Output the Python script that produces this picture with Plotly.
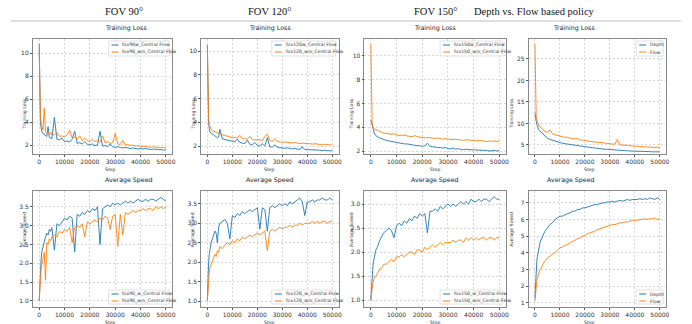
import plotly.graph_objects as go

# ---------------- data ----------------
steps = [0, 250, 500, 750, 1000, 1500, 2000, 2500, 3000, 3500, 4000, 4500, 5000,
         6000, 7000, 8000, 9000, 10000,
         11000, 12000, 13000, 14000, 15000, 16000, 17000, 18000, 19000, 20000,
         21000, 22000, 23000, 24000, 25000, 26000, 27000, 28000, 29000, 30000,
         31000, 32000, 33000, 34000, 35000, 36000, 37000, 38000, 39000, 40000,
         41000, 42000, 43000, 44000, 45000, 46000, 47000, 48000, 49000, 50000]

headers = ["FOV 90°", "FOV 120°", "FOV 150°", "Depth vs. Flow based policy"]
row_titles = ["Training Loss", "Average Speed"]
x_label = "Step"

loss_names = [["fov90w_Central Flow", "fov90_w/o_Central Flow"],
              ["fov120w_Central Flow", "fov120_w/o_Central Flow"],
              ["fov150w_Central Flow", "fov150_w/o_Central Flow"],
              ["Depth", "Flow"]]
speed_names = [["fov90_w_Central Flow", "fov90_w/o_Central Flow"],
               ["fov120_w_Central Flow", "fov120_w/o_Central Flow"],
               ["fov150_w_Central Flow", "fov150_w/o_Central Flow"],
               ["Depth", "Flow"]]

loss_fov90_w = [10.8, 5.5, 4.0, 3.5, 3.2, 3.0, 2.9, 2.8, 2.75, 3.6, 2.65, 2.6, 2.55,
                4.4, 2.5, 2.45, 2.6, 2.3,
                2.35, 2.25, 2.5, 3.2, 2.15, 2.2, 2.1, 2.3, 2.05, 2.0,
                2.1, 1.95, 2.0, 3.2, 1.9, 1.95, 1.85, 2.1, 1.85, 1.8,
                1.85, 1.8, 1.75, 1.8, 1.75, 1.7, 1.75, 1.7, 1.65, 1.7,
                1.65, 1.7, 1.65, 1.6, 1.65, 1.6, 1.6, 1.6, 1.55, 1.6]
loss_fov90_wo = [10.3, 6.0, 4.4, 3.9, 3.6, 3.3, 5.2, 3.1, 3.0, 3.2, 2.9, 3.1, 2.85,
                 2.9, 3.1, 2.75, 2.8, 2.7,
                 2.9, 3.3, 2.6, 2.7, 2.5, 2.8, 2.4, 2.6, 2.35, 2.3,
                 2.5, 2.3, 2.4, 2.25, 2.8, 2.2, 2.3, 2.15, 2.2, 3.0,
                 2.1, 2.05, 2.4, 2.0, 2.05, 1.95, 2.0, 1.9, 1.95, 1.85,
                 1.9, 1.85, 1.85, 1.8, 1.85, 1.8, 1.8, 1.75, 1.8, 1.75]
loss_fov120_w = [10.5, 5.0, 4.0, 3.5, 3.2, 3.1, 3.0, 2.9, 2.85, 2.8, 2.7, 2.75, 3.4,
                 2.6, 2.55, 2.5, 2.45, 2.4,
                 2.35, 2.6, 2.3, 2.25, 2.2, 2.5, 2.15, 2.1, 2.3, 2.05,
                 2.0, 2.2, 2.0, 2.7, 1.95, 1.9, 2.1, 1.9, 1.85, 1.85,
                 1.8, 1.85, 1.8, 1.75, 1.8, 1.75, 1.7, 1.95, 1.7, 1.7,
                 1.7, 1.65, 1.7, 1.65, 1.65, 1.6, 1.65, 1.6, 1.6, 1.6]
loss_fov120_wo = [10.4, 5.5, 4.3, 3.8, 3.6, 3.4, 3.3, 3.25, 3.2, 3.15, 3.1, 3.05, 3.0,
                  2.95, 2.9, 2.85, 2.8, 2.7,
                  2.75, 2.7, 2.9, 2.65, 2.6, 2.6, 2.8, 2.55, 2.5, 2.5,
                  2.55, 2.45, 2.8, 3.0, 2.45, 2.4, 2.6, 2.4, 2.35, 2.3,
                  2.35, 2.3, 2.3, 2.25, 2.3, 2.25, 2.2, 2.25, 2.2, 2.2,
                  2.2, 2.15, 2.2, 2.15, 2.15, 2.1, 2.15, 2.1, 2.1, 2.1]
loss_fov150_w = [4.6, 4.4, 4.1, 3.8, 3.6, 3.4, 3.3, 3.2, 3.15, 3.1, 3.05, 3.0, 2.95,
                 2.9, 2.85, 2.8, 2.75, 2.7,
                 2.7, 2.65, 2.6, 2.6, 2.55, 2.5, 2.5, 2.45, 2.45, 2.4,
                 2.45, 2.65, 2.4, 2.35, 2.35, 2.3, 2.3, 2.25, 2.3, 2.2,
                 2.2, 2.25, 2.15, 2.2, 2.15, 2.1, 2.15, 2.1, 2.1, 2.1,
                 2.1, 2.05, 2.1, 2.05, 2.05, 2.0, 2.05, 2.05, 2.0, 2.05]
loss_fov150_wo = [11.0, 5.5, 4.4, 4.1, 3.95, 3.85, 3.8, 3.75, 3.7, 3.65, 3.6, 3.55, 3.5,
                  3.5, 3.45, 3.4, 3.45, 3.35,
                  3.3, 3.35, 3.3, 3.3, 3.25, 3.2, 3.3, 3.2, 3.15, 3.15,
                  3.1, 3.15, 3.1, 3.1, 3.05, 3.1, 3.05, 3.0, 3.05, 3.0,
                  3.0, 2.95, 3.0, 2.95, 2.95, 2.9, 2.95, 2.9, 2.9, 2.9,
                  2.85, 2.9, 2.85, 2.85, 2.8, 2.85, 2.8, 2.85, 2.8, 2.85]
loss_depth = [12.5, 11.0, 10.5, 9.8, 9.2, 8.6, 8.2, 7.9, 7.6, 7.3, 7.0, 6.8, 6.6,
              6.3, 6.1, 5.9, 5.7, 5.6,
              5.4, 5.3, 5.2, 5.1, 5.0, 4.9, 4.8, 4.7, 4.65, 4.5,
              4.5, 4.4, 4.35, 4.3, 4.2, 4.15, 4.1, 4.0, 4.0, 3.9,
              3.9, 3.85, 3.8, 3.8, 3.7, 3.7, 3.65, 3.6, 3.6, 3.55,
              3.55, 3.5, 3.5, 3.5, 3.45, 3.45, 3.4, 3.45, 3.4, 3.4]
loss_flow = [28.5, 13.0, 11.5, 10.8, 10.2, 9.6, 9.2, 8.9, 8.6, 8.4, 8.2, 8.0, 7.9,
             8.5, 7.6, 7.4, 7.2, 7.0,
             6.9, 6.8, 6.8, 6.6, 6.5, 6.4, 6.5, 6.2, 6.1, 6.0,
             5.9, 5.9, 5.8, 5.7, 5.6, 5.6, 5.5, 5.4, 5.4, 5.3,
             5.2, 5.2, 6.3, 5.0, 5.0, 4.9, 4.9, 4.8, 4.8, 4.7,
             4.7, 4.6, 4.6, 4.6, 4.5, 4.5, 4.5, 4.4, 4.5, 4.4]

speed_fov90_w = [1.0, 1.6, 1.9, 2.1, 2.3, 2.45, 2.55, 2.7, 2.8, 2.75, 2.9, 2.85, 2.95,
                 2.35, 3.05, 3.0, 3.1, 3.2,
                 3.15, 3.25, 3.2, 2.3, 3.3, 3.25, 3.35, 3.3, 3.4, 3.35,
                 3.45, 3.4, 3.5, 2.5, 3.45, 3.5, 3.55, 3.5, 3.6, 3.55,
                 3.6, 3.55, 3.6, 3.65, 3.6, 3.65, 3.6, 3.65, 3.7, 3.65,
                 3.65, 3.7, 3.65, 3.7, 3.7, 3.65, 3.7, 3.75, 3.7, 3.65]
speed_fov90_wo = [1.0, 1.4, 1.7, 1.85, 1.95, 2.1, 2.3, 1.55, 2.55, 2.5, 2.65, 2.6, 2.7,
                  2.75, 2.7, 2.85, 2.8, 2.9,
                  2.85, 2.95, 2.55, 2.95, 3.0, 2.95, 3.05, 2.7, 3.1, 3.05,
                  3.1, 3.15, 3.1, 3.2, 3.15, 3.25, 3.2, 2.9, 3.25, 3.3,
                  2.45, 3.3, 2.75, 3.35, 3.3, 3.35, 3.4, 3.35, 3.4, 3.4,
                  3.45, 3.4, 3.45, 3.45, 3.4, 3.5, 3.45, 3.5, 3.45, 3.5]
speed_fov120_w = [1.0, 1.7, 2.0, 2.2, 2.35, 2.5, 2.6, 2.7, 2.8, 2.75, 2.5, 2.9, 3.0,
                  3.05, 3.1, 3.0, 2.6, 3.2,
                  3.15, 3.25, 3.2, 3.3, 3.25, 3.3, 3.35, 3.3, 3.35, 3.4,
                  2.85, 3.4, 3.35, 2.8, 3.4, 3.45, 3.4, 3.45, 3.5, 3.45,
                  3.5, 3.45, 3.55, 3.5, 3.55, 3.6, 3.65, 3.55, 3.2, 3.55,
                  3.55, 3.6, 3.55, 3.6, 3.6, 3.65, 3.6, 3.6, 3.65, 3.6]
speed_fov120_wo = [1.0, 1.4, 1.6, 1.75, 1.85, 1.95, 2.0, 2.1, 2.2, 2.15, 2.3, 2.25, 2.4,
                   2.35, 2.45, 2.5, 2.45, 2.55,
                   2.5, 2.6, 2.55, 2.65, 2.6, 2.65, 2.7, 2.65, 2.7, 2.75,
                   2.7, 2.75, 2.8, 2.3, 2.8, 2.85, 2.8, 2.85, 2.9, 2.85,
                   2.9, 2.9, 2.95, 2.9, 2.95, 2.95, 3.0, 2.95, 3.0, 3.0,
                   3.0, 3.05, 3.0, 3.05, 3.0, 3.05, 3.05, 3.0, 3.05, 3.05]
speed_fov150_w = [1.0, 1.3, 1.5, 1.65, 1.8, 1.95, 2.05, 2.1, 2.2, 2.25, 2.3, 2.35, 2.4,
                  2.45, 2.5, 2.45, 2.3, 2.55,
                  2.6, 2.55, 2.65, 2.6, 2.7, 2.65, 2.75, 2.7, 2.8, 2.75,
                  2.8, 2.4, 2.85, 2.85, 2.9, 2.85, 2.95, 2.9, 2.95, 3.0,
                  2.95, 3.0, 2.95, 3.0, 3.05, 3.0, 3.05, 3.0, 3.1, 3.05,
                  3.05, 3.1, 3.05, 3.1, 3.1, 3.05, 3.1, 3.15, 3.1, 3.1]
speed_fov150_wo = [1.0, 1.15, 1.25, 1.35, 1.4, 1.5, 1.5, 1.55, 1.6, 1.65, 1.65, 1.7, 1.75,
                   1.75, 1.8, 1.85, 1.8, 1.9,
                   1.9, 1.95, 1.9, 1.95, 2.0, 2.0, 1.95, 2.05, 2.05, 2.0,
                   2.1, 2.05, 2.1, 2.15, 2.1, 2.15, 2.2, 2.15, 2.2, 2.2,
                   2.2, 2.25, 2.2, 2.25, 2.25, 2.2, 2.3, 2.25, 2.3, 2.25,
                   2.3, 2.25, 2.3, 2.3, 2.25, 2.3, 2.3, 2.25, 2.3, 2.3]
speed_depth = [1.3, 2.5, 3.0, 3.5, 3.8, 4.3, 4.6, 4.8, 5.0, 5.1, 5.3, 5.4, 5.5,
               5.7, 5.8, 6.0, 6.1, 6.2,
               6.2, 6.3, 6.35, 6.4, 6.5, 6.5, 6.6, 6.6, 6.7, 6.7,
               6.75, 6.8, 6.85, 6.9, 6.9, 6.95, 7.0, 7.0, 7.05, 7.05,
               7.1, 7.05, 7.1, 7.15, 7.1, 7.15, 7.2, 7.15, 7.2, 7.2,
               7.2, 7.25, 7.2, 7.25, 7.2, 7.3, 7.25, 7.2, 7.3, 7.2]
speed_flow = [1.1, 1.6, 2.0, 2.3, 2.5, 2.8, 3.0, 3.1, 3.3, 3.4, 3.5, 3.6, 3.7,
              3.8, 3.9, 4.0, 4.15, 4.3,
              4.35, 4.45, 4.5, 4.6, 4.7, 4.75, 4.85, 4.9, 5.0, 5.1,
              5.15, 5.2, 5.25, 5.3, 5.4, 5.45, 5.5, 5.55, 5.6, 5.65,
              5.7, 5.7, 5.75, 5.8, 5.8, 5.85, 5.85, 5.9, 5.95, 5.95,
              5.95, 6.0, 6.0, 6.05, 6.0, 6.05, 6.05, 6.1, 6.0, 6.05]

loss_series = [(loss_fov90_w, loss_fov90_wo), (loss_fov120_w, loss_fov120_wo),
               (loss_fov150_w, loss_fov150_wo), (loss_depth, loss_flow)]
speed_series = [(speed_fov90_w, speed_fov90_wo), (speed_fov120_w, speed_fov120_wo),
                (speed_fov150_w, speed_fov150_wo), (speed_depth, speed_flow)]

x_ticks = [0, 10000, 20000, 30000, 40000, 50000]
loss_yticks = [[2, 4, 6, 8, 10], [2, 4, 6, 8, 10], [2, 4, 6, 8, 10], [5, 10, 15, 20, 25]]
speed_yticks = [[1.0, 1.5, 2.0, 2.5, 3.0, 3.5], [1.0, 1.5, 2.0, 2.5, 3.0, 3.5],
                [1.0, 1.5, 2.0, 2.5, 3.0], [1, 2, 3, 4, 5, 6, 7]]

# ---------------- layout / style ----------------
W, H = 692, 324
BLUE, ORANGE = "#1f77b4", "#ff7f0e"
col_px = [(33, 173), (202, 340), (366, 508), (531, 669)]
row_px = [(39, 154), (191, 307)]
loss_ranges = [[1.22, 11.22], [1.33, 11.01], [1.75, 11.43], [2.9, 29.65]]
speed_ranges = [[0.84, 3.92], [0.85, 3.83], [0.86, 3.27], [0.76, 7.71]]
speed_fmt = [".1f", ".1f", ".1f", "d"]
leg_w = [61, 64, 63, 27]


def px(x):
    return x / W


def py(y):
    return 1 - y / H


fig = go.Figure()
layout = dict(width=W, height=H, margin=dict(l=0, r=0, t=0, b=0),
              paper_bgcolor="white", plot_bgcolor="white", showlegend=False)
shapes, annotations = [], []
tick_font = dict(family="DejaVu Sans", size=6, color="#333")
small_font = dict(family="DejaVu Sans", size=4.6, color="#333")

for r in range(2):
    series = loss_series if r == 0 else speed_series
    names = loss_names if r == 0 else speed_names
    for c in range(4):
        k = r * 4 + c + 1
        xa = "x" if k == 1 else f"x{k}"
        ya = "y" if k == 1 else f"y{k}"
        for vals, nm, col in zip(series[c], names[c], (BLUE, ORANGE)):
            fig.add_trace(go.Scatter(x=steps, y=vals, name=nm, mode="lines",
                                     line=dict(color=col, width=0.9),
                                     xaxis=xa, yaxis=ya))
        x0, x1 = col_px[c]
        y0, y1 = row_px[r]
        axis_common = dict(showline=True, mirror=True, linecolor="#888", linewidth=0.8,
                           showgrid=True, gridcolor="#d8d8d8", griddash="2px,2px", gridwidth=0.6,
                           ticks="outside", ticklen=2, tickcolor="#555", tickwidth=0.6,
                           tickfont=tick_font, zeroline=False)
        layout["xaxis" if k == 1 else f"xaxis{k}"] = dict(
            domain=[px(x0), px(x1)], anchor=ya, range=[-2500, 52500],
            tickvals=x_ticks, ticktext=[str(v) for v in x_ticks], **axis_common)
        yt = loss_yticks[c] if r == 0 else speed_yticks[c]
        yr = loss_ranges[c] if r == 0 else speed_ranges[c]
        fmt = "d" if r == 0 else speed_fmt[c]
        layout["yaxis" if k == 1 else f"yaxis{k}"] = dict(
            domain=[py(y1), py(y0)], anchor=xa, range=yr,
            tickvals=yt, tickformat=fmt, **axis_common)
        cx = (x0 + x1) / 2
        # subplot title
        annotations.append(dict(x=px(cx), y=py(y0 - 5), xref="paper", yref="paper",
                                text=row_titles[r], showarrow=False, yanchor="bottom",
                                font=dict(family="DejaVu Sans", size=6.3, color="#222")))
        # axis titles
        annotations.append(dict(x=px(cx), y=py(y1 + 15), xref="paper", yref="paper",
                                text=x_label, showarrow=False, yanchor="middle",
                                font=small_font))
        annotations.append(dict(x=px(x0 - 13), y=py((y0 + y1) / 2), xref="paper", yref="paper",
                                text=row_titles[r], showarrow=False, textangle=-90,
                                font=small_font))
        # legend box
        bw = leg_w[c]
        bx1 = x1 - 3
        bx0 = bx1 - bw
        if r == 0:
            by0, by1 = y0 + 2, y0 + 17
        else:
            by0, by1 = y1 - 17, y1 - 3
        shapes.append(dict(type="rect", xref="paper", yref="paper",
                           x0=px(bx0), x1=px(bx1), y0=py(by1), y1=py(by0),
                           fillcolor="rgba(255,255,255,0.85)",
                           line=dict(color="#cccccc", width=0.6)))
        for i, (nm, col) in enumerate(zip(names[c], (BLUE, ORANGE))):
            ey = by0 + 4 + i * 7
            shapes.append(dict(type="line", xref="paper", yref="paper",
                               x0=px(bx0 + 3), x1=px(bx0 + 10), y0=py(ey), y1=py(ey),
                               line=dict(color=col, width=1)))
            annotations.append(dict(x=px(bx0 + 12), y=py(ey), xref="paper", yref="paper",
                                    text=nm, showarrow=False, xanchor="left", yanchor="middle",
                                    font=small_font))

# column headers
for c in range(4):
    cx = (col_px[c][0] + col_px[c][1]) / 2
    annotations.append(dict(x=px(cx), y=py(12), xref="paper", yref="paper",
                            text=headers[c], showarrow=False, yanchor="middle",
                            font=dict(family="Liberation Serif", size=10.5, color="#111")))
shapes.append(dict(type="line", xref="paper", yref="paper",
                   x0=px(11), x1=px(684), y0=py(21), y1=py(21),
                   line=dict(color="#aaaaaa", width=0.8)))

layout["shapes"] = shapes
layout["annotations"] = annotations
fig.update_layout(**layout)
fig.write_html("out.html", config={"displayModeBar": False},
               post_script="document.body.style.margin='0';document.body.style.overflow='hidden';")
